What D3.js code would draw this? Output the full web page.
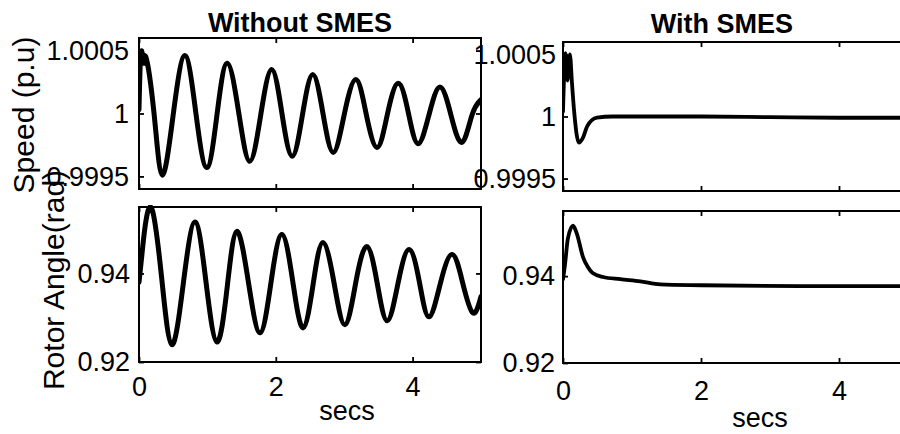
<!DOCTYPE html>
<html>
<head>
<meta charset="utf-8">
<script src="https://cdn.jsdelivr.net/npm/d3@7"></script>
<style>
  html, body { margin: 0; padding: 0; background: #fff; }
  svg { display: block; font-family: "Liberation Sans", Arial, sans-serif; }
</style>
</head>
<body>
<svg id="chart" width="900" height="434"></svg>
<script>
// ---- data ----
const timeTicks = [0, 2, 4];
const speedTicks = [0.9995, 1, 1.0005];
const speedTickLabels = ["0.9995", "1", "1.0005"];
const angleTicks = [0.92, 0.94];
const angleTickLabels = ["0.92", "0.94"];
const titles = ["Without SMES", "With SMES"];

const speedWithout = [
  [0,1.00003],[0.03,1.00049],[0.07,1.0004],[0.10,1.00045],[0.22,1.0],[0.34,0.99951],
  [0.50,0.99999],[0.67,1.00046],[0.83,1.00001],[0.99,0.99957],[1.14,0.99999],[1.29,1.0004],
  [1.46,1.0],[1.62,0.99962],[1.78,0.99999],[1.94,1.00035],[2.09,1.0],[2.24,0.99966],
  [2.39,0.99999],[2.54,1.00031],[2.69,1.0],[2.84,0.99969],[3.0,0.99999],[3.17,1.00027],
  [3.32,1.0],[3.48,0.99973],[3.63,0.99999],[3.79,1.00024],[3.94,1.0],[4.08,0.99976],
  [4.24,0.99999],[4.40,1.00021],[4.56,0.99999],[4.72,0.99977],[4.87,0.99999],[5.0,1.00011]
];
const angleWithout = [
  [0,0.938],[0.04,0.9438],[0.09,0.9507],[0.19,0.9545],[0.33,0.9392],[0.48,0.9239],
  [0.65,0.938],[0.82,0.9516],[0.98,0.938],[1.14,0.9245],[1.29,0.937],[1.43,0.9495],
  [1.60,0.938],[1.77,0.9266],[1.93,0.938],[2.09,0.9488],[2.25,0.938],[2.40,0.9277],
  [2.55,0.938],[2.69,0.947],[2.85,0.938],[3.01,0.9284],[3.17,0.938],[3.33,0.9461],
  [3.48,0.938],[3.63,0.9293],[3.79,0.938],[3.95,0.9454],[4.10,0.938],[4.24,0.9302],
  [4.41,0.938],[4.58,0.9443],[4.73,0.938],[4.88,0.9311],[5.0,0.9348]
];
const speedWith = [
  [0,1.00004],[0.036,1.00051],[0.065,1.00029],[0.10,1.0005],[0.13,1.00027],[0.16,1.00005],
  [0.23,0.99979],[0.29,0.99983],[0.35,0.99992],[0.49,0.99999],[0.72,1.0],[1.26,1.0],
  [2,1.0],[3,0.999995],[4,0.99999],[5,0.99999]
];
const angleWith = [
  [0,0.9393],[0.03,0.9428],[0.07,0.9486],[0.145,0.9516],[0.2,0.9498],[0.29,0.9444],
  [0.36,0.9421],[0.43,0.9407],[0.58,0.9398],[0.83,0.9393],[1.12,0.9388],[1.41,0.9381],
  [2,0.9379],[3.43,0.9377],[5,0.9377]
];

// ---- layout ----
const svg = d3.select("#chart");
const font = '"Liberation Sans", Arial, sans-serif';

const panels = [
  { x0: 139, x1: 481, y0: 38,  y1: 189, dom: [0.9994, 1.0006], ticks: speedTicks, labels: speedTickLabels, data: speedWithout, sw: 5, pad: 10, xlab: false, curve: d3.curveNatural },
  { x0: 563, x1: 908, y0: 42,  y1: 191, dom: [0.9994, 1.0006], ticks: speedTicks, labels: speedTickLabels, data: speedWith, sw: 3.8, pad: 7, xlab: false, curve: d3.curveMonotoneX },
  { x0: 139, x1: 481, y0: 207, y1: 362, dom: [0.92, 0.955], ticks: angleTicks, labels: angleTickLabels, data: angleWithout, sw: 5, pad: 9, xlab: true, xpad: 15, curve: d3.curveNatural },
  { x0: 563, x1: 908, y0: 211, y1: 363, dom: [0.92, 0.955], ticks: angleTicks, labels: angleTickLabels, data: angleWith, sw: 3.8, pad: 8, xlab: true, xpad: 18, curve: d3.curveMonotoneX }
];

panels.forEach((p, i) => {
  const x = d3.scaleLinear().domain([0, 5]).range([p.x0, p.x1]);
  const y = d3.scaleLinear().domain(p.dom).range([p.y1, p.y0]);

  const clipId = "clip" + i;
  svg.append("clipPath").attr("id", clipId)
    .append("rect").attr("x", p.x0).attr("y", p.y0 - 2)
    .attr("width", p.x1 - p.x0).attr("height", p.y1 - p.y0 + 4);

  // data line
  const line = d3.line().x(d => x(d[0])).y(d => y(d[1])).curve(p.curve);
  svg.append("path").datum(p.data)
    .attr("d", line)
    .attr("fill", "none").attr("stroke", "#000")
    .attr("stroke-width", p.sw).attr("stroke-linejoin", "round").attr("stroke-linecap", "round")
    .attr("clip-path", `url(#${clipId})`);

  // left axis
  const gl = svg.append("g").attr("transform", `translate(${p.x0},0)`)
    .call(d3.axisLeft(y).tickValues(p.ticks).tickFormat((d, k) => p.labels[k]).tickSize(-5).tickPadding(p.pad));
  // right mirrored ticks
  const gr = svg.append("g").attr("transform", `translate(${p.x1},0)`)
    .call(d3.axisRight(y).tickValues(p.ticks).tickFormat("").tickSize(-5));
  // top ticks
  const gt = svg.append("g").attr("transform", `translate(0,${p.y0})`)
    .call(d3.axisTop(x).tickValues(timeTicks).tickFormat("").tickSize(-5));
  // bottom ticks
  const gb = svg.append("g").attr("transform", `translate(0,${p.y1})`)
    .call(d3.axisBottom(x).tickValues(timeTicks).tickFormat(p.xlab ? d3.format("d") : "").tickSize(-5).tickPadding(p.xpad || 3));

  [gl, gr, gt, gb].forEach(g => {
    g.select(".domain").remove();
    g.selectAll(".tick line").attr("stroke", "#000").attr("stroke-width", 1.8);
    g.selectAll("text").attr("fill", "#000").style("font-family", font).style("font-size", "27px");
  });

  // box
  svg.append("rect").attr("x", p.x0).attr("y", p.y0)
    .attr("width", p.x1 - p.x0).attr("height", p.y1 - p.y0)
    .attr("fill", "none").attr("stroke", "#000").attr("stroke-width", 2);
});

// titles
svg.append("text").attr("x", 300).attr("y", 32).attr("text-anchor", "middle")
  .style("font-family", font).style("font-size", "27px").style("font-weight", "bold").text(titles[0]);
svg.append("text").attr("x", 722).attr("y", 33).attr("text-anchor", "middle")
  .style("font-family", font).style("font-size", "27px").style("font-weight", "bold").text(titles[1]);

// x labels
svg.append("text").attr("x", 347).attr("y", 420).attr("text-anchor", "middle")
  .style("font-family", font).style("font-size", "27px").text("secs");
svg.append("text").attr("x", 760).attr("y", 427).attr("text-anchor", "middle")
  .style("font-family", font).style("font-size", "27px").text("secs");

// y labels
svg.append("text").attr("transform", "translate(34,115) rotate(-90)").attr("text-anchor", "middle")
  .style("font-family", font).style("font-size", "30px").text("Speed (p.u)");
svg.append("text").attr("transform", "translate(64,280) rotate(-90)").attr("text-anchor", "middle")
  .style("font-family", font).style("font-size", "30px").text("Rotor Angle(rad)");
</script>
</body>
</html>
